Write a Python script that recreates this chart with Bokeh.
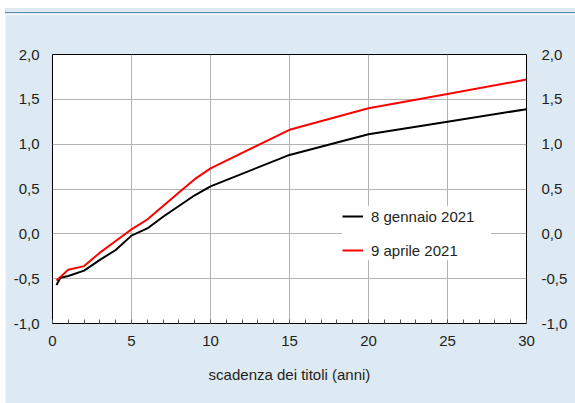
from bokeh.plotting import figure
from bokeh.models import (Range1d, LinearAxis, FixedTicker, SingleIntervalTicker,
                          Legend, LegendItem, Div, Spacer)
from bokeh.layouts import column, row
from bokeh.embed import file_html
from bokeh.resources import INLINE

# ---- data ----
maturities = [0.25, 0.5, 1, 2, 3, 4, 5, 6, 7, 8, 9, 10, 15, 20, 25, 30]
jan_2021 = [-0.57, -0.49, -0.47, -0.41, -0.29, -0.18, -0.02, 0.06, 0.19, 0.31, 0.43, 0.53, 0.88, 1.11, 1.25, 1.39]
apr_2021 = [-0.52, -0.48, -0.40, -0.36, -0.21, -0.08, 0.05, 0.16, 0.31, 0.46, 0.61, 0.73, 1.16, 1.40, 1.56, 1.72]
series_names = ["8 gennaio 2021", "9 aprile 2021"]
x_ticks = [0, 5, 10, 15, 20, 25, 30]
y_ticks = [-1.0, -0.5, 0.0, 0.5, 1.0, 1.5, 2.0]
y_tick_labels = ["-1,0", "-0,5", "0,0", "0,5", "1,0", "1,5", "2,0"]
x_title = "scadenza dei titoli (anni)"

BG = "#dde9f3"
RULE = "#5a8db0"
FONT = "Liberation Sans"
TXT = "#231f20"
FS = "15px"

p = figure(width=570, height=389, output_backend="svg", toolbar_location=None,
           x_range=Range1d(0, 30), y_range=Range1d(-1, 2),
           min_border_left=47, min_border_right=49, min_border_top=40, min_border_bottom=80,
           margin=0)
p.border_fill_color = BG
p.background_fill_color = "white"
p.outline_line_color = "black"
p.outline_line_width = 1

# axes
p.xaxis.ticker = SingleIntervalTicker(interval=5, num_minor_ticks=5)
p.yaxis.ticker = FixedTicker(ticks=y_ticks)
p.yaxis.major_label_overrides = {t: l for t, l in zip(y_ticks, y_tick_labels)}
right_axis = LinearAxis(ticker=FixedTicker(ticks=y_ticks),
                        major_label_overrides={t: l for t, l in zip(y_ticks, y_tick_labels)})
p.add_layout(right_axis, "right")

for ax in p.yaxis:
    ax.major_tick_in = 0
    ax.major_tick_out = 0
    ax.minor_tick_in = 0
    ax.minor_tick_out = 0
    ax.axis_line_color = None
    ax.major_label_text_font = FONT
    ax.major_label_text_font_size = FS
    ax.major_label_text_color = TXT
    ax.major_label_standoff = 13
right_axis.major_label_standoff = 15

xa = p.xaxis[0]
xa.major_tick_in = 0
xa.major_tick_out = 0
xa.minor_tick_in = 4
xa.minor_tick_out = 0
xa.minor_tick_line_color = "#555555"
xa.axis_line_color = None
xa.major_label_text_font = FONT
xa.major_label_text_font_size = FS
xa.major_label_text_color = TXT
xa.major_label_standoff = 12
xa.axis_label = x_title
xa.axis_label_text_font = FONT
xa.axis_label_text_font_size = FS
xa.axis_label_text_font_style = "normal"
xa.axis_label_text_color = TXT
xa.axis_label_standoff = 17

p.xgrid.ticker = FixedTicker(ticks=x_ticks)
p.ygrid.ticker = FixedTicker(ticks=y_ticks)
for g in (p.xgrid, p.ygrid):
    g.grid_line_color = "#b3b3b3"
    g.grid_line_width = 1

# lines
r1 = p.line(maturities, jan_2021, line_color="black", line_width=2)
r2 = p.line(maturities, apr_2021, line_color="#ff0000", line_width=2)

legend = Legend(items=[LegendItem(label=series_names[0], renderers=[r1]),
                       LegendItem(label=series_names[1], renderers=[r2])],
                location=(290, 63), padding=10, spacing=14,
                label_height=20, glyph_height=20, glyph_width=21, label_standoff=8,
                label_width=120,
                label_text_font=FONT, label_text_font_size=FS, label_text_color=TXT,
                background_fill_color="white", background_fill_alpha=1,
                border_line_color=None)
p.add_layout(legend)

# header strip with the thin blue rule
header = Div(width=575, height=14, margin=0, styles={
    "background": ("linear-gradient(to right, #ffffff 0px, #ffffff 5px, transparent 5px), "
                   "linear-gradient(to bottom, #ffffff 0px, #ffffff 8px, " + BG + " 8px, " + BG + " 12px, "
                   + RULE + " 12px, " + RULE + " 13.5px, " + BG + " 13.5px, " + BG + " 14px)"),
})

layout = column(header, row(Spacer(width=5, height=389, margin=0), p, spacing=0, margin=0),
                spacing=0, margin=0)

open("out.html", "w").write(file_html(layout, INLINE))
